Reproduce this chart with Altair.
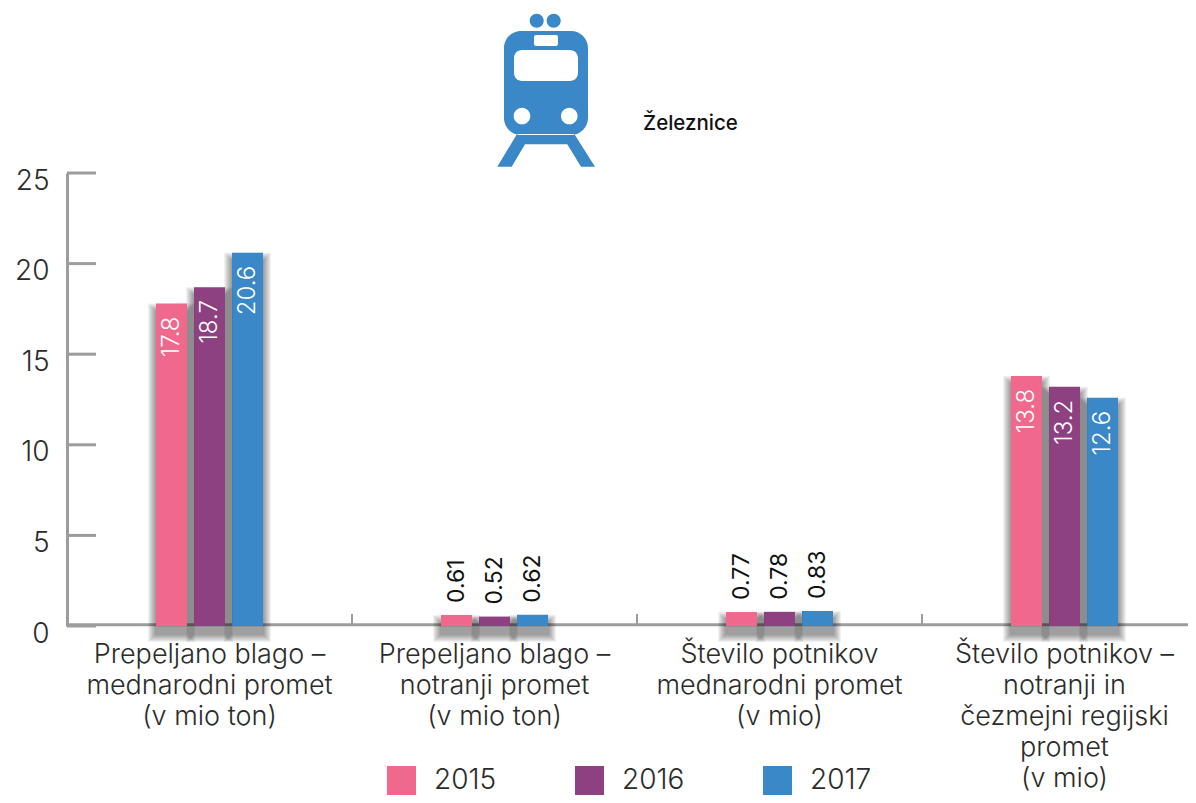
import altair as alt
import pandas as pd

categories = ["Prepeljano blago –|mednarodni promet|(v mio ton)",
              "Prepeljano blago –|notranji promet|(v mio ton)",
              "Število potnikov|mednarodni promet|(v mio)",
              "Število potnikov –|notranji in|čezmejni regijski|promet|(v mio)"]
years = ["2015", "2016", "2017"]
colors = ["#F0688B", "#8E4180", "#3B88C9"]
v2015 = [17.8, 0.61, 0.77, 13.8]
v2016 = [18.7, 0.52, 0.78, 13.2]
v2017 = [20.6, 0.62, 0.83, 12.6]
y_ticks = [0, 5, 10, 15, 20, 25]
FONT = "Inter"
GREY = "#9C9C9C"
DARK = "#2B2B2B"

rows = []
for y, vals in zip(years, [v2015, v2016, v2017]):
    for c, v in zip(categories, vals):
        rows.append({"cat": c, "year": y, "value": v})
df = pd.DataFrame(rows)

xs = alt.X("cat:N", sort=categories, scale=alt.Scale(domain=categories, paddingInner=0, paddingOuter=0),
           axis=alt.Axis(title=None, labelAngle=0, labelFont=FONT, labelFontSize=27, labelFontWeight=300,
                         labelColor=DARK, ticks=False, labelPadding=15.5, labelLimit=0, labelOverlap=False,
                         labelLineHeight=31, labelBaseline="top", labelAlign="center",
                         domain=False, grid=False,
                         labelExpr="split(datum.label, '|')"))
ys = alt.Y("value:Q", scale=alt.Scale(domain=[0, 25], nice=False),
           axis=alt.Axis(title=None, values=y_ticks, ticks=False, tickSize=0, grid=False, labelFont=FONT, labelFontSize=28,
                         labelFontWeight=300, labelColor=DARK, labelPadding=18, labelOffset=8,
                         domainColor=GREY, domainWidth=3))
xo = alt.XOffset("year:N", scale=alt.Scale(domain=years, range=[89, 196], paddingInner=7/38, paddingOuter=0))
col = alt.Color("year:N", scale=alt.Scale(domain=years, range=colors),
                legend=alt.Legend(title=None, orient="none", legendX=320, legendY=593, direction="horizontal", padding=0,
                                  symbolType="square", symbolSize=841, symbolStrokeWidth=0, symbolOpacity=1,
                                  labelFont=FONT, labelFontSize=28, labelFontWeight=300, labelColor=DARK,
                                  labelOffset=18, columnPadding=78, columns=3))

base = alt.Chart(df)
layers = []
# x axis line, x ticks and y ticks
xl = alt.Chart(pd.DataFrame({"a": [1]})).mark_rule(color=GREY, strokeWidth=3).encode(
    y=alt.value(451.7), x=alt.value(0), x2=alt.value(1140))
yt = alt.Chart(pd.DataFrame({"value": y_ticks})).mark_rule(color=GREY, strokeWidth=3).encode(
    y=ys, x=alt.value(0), x2=alt.value(29))
xt = alt.Chart(pd.DataFrame({"cat": categories})).mark_rule(color=GREY, strokeWidth=2).encode(
    x=alt.X("cat:N", sort=categories, bandPosition=0), y=alt.value(441), y2=alt.value(452))
layers += [xl, yt, xt]

for yr in reversed(years):
    sub = base.transform_filter(f"datum.year == '{yr}'")
    for w in (16, 14, 12, 10, 8, 6, 4, 2):
        layers.append(sub.mark_bar(color="black", opacity=0.05, stroke="black", strokeWidth=w,
                                   xOffset=10, yOffset=8).encode(x=xs, xOffset=xo, y=ys))
    layers.append(sub.mark_bar(opacity=1).encode(x=xs, xOffset=xo, y=ys, color=col))

layers.append(base.transform_filter("datum.value > 5").mark_text(angle=270, align="right", baseline="middle", dx=-13,
              font=FONT, fontSize=24, fontWeight=300, color="white").encode(x=xs, xOffset=xo, y=ys, text=alt.Text("value:Q", format=".1f")))
layers.append(base.transform_filter("datum.value <= 5").mark_text(angle=270, align="left", baseline="middle", dx=12,
              font=FONT, fontSize=23, fontWeight=400, color="#111").encode(x=xs, xOffset=xo, y=ys, text=alt.Text("value:Q", format=".2f")))

# icon, path in pixels around its centre
BLUE = "#3B88C9"
def circ(cx, cy, r, sweep=1):
    return f"M{cx-r},{cy}A{r},{r} 0 1 {sweep} {cx+r},{cy}A{r},{r} 0 1 {sweep} {cx-r},{cy}Z"
def rrect(x0, y0, x1, y1, r):
    return (f"M{x0+r},{y0}L{x1-r},{y0}A{r},{r} 0 0 1 {x1},{y0+r}L{x1},{y1-r}A{r},{r} 0 0 1 {x1-r},{y1}"
            f"L{x0+r},{y1}A{r},{r} 0 0 1 {x0},{y1-r}L{x0},{y0+r}A{r},{r} 0 0 1 {x0+r},{y0}Z")
icon_blue = (circ(-9.3, -69.3, 7) + circ(7.7, -69.3, 7) + rrect(-42, -59, 42, 45, 17) +
             "M-29,44L-48.7,76.7L-34.3,76.7L-21,54.3L21.3,54.3L35,76.7L49,76.7L28.3,44Z")
icon_white = (rrect(-12, -55, 12, -44, 2) + rrect(-32, -40, 32, -9, 8) + circ(-24, 26, 8.3) + circ(23.3, 26, 8.3))
one = alt.Chart(pd.DataFrame({"a": [1]}))
for shape, c in ((icon_blue, BLUE), (icon_white, "white")):
    layers.append(one.mark_point(shape=shape, filled=True, size=4, color=c, opacity=1).encode(x=alt.value(479), y=alt.value(-83)))
layers.append(one.mark_text(text="Železnice", font=FONT, fontSize=20.5, fontWeight=500, color="#111", align="left", baseline="middle")
              .encode(x=alt.value(576), y=alt.value(-49)))

chart = alt.layer(*layers).resolve_scale(x="shared", y="shared").properties(
    width=1140, height=453,
    autosize=alt.AutoSizeParams(type="none"),
    padding={"left": 59, "top": 165, "right": -19, "bottom": 169},
).configure_view(stroke=None)
chart.save("out.html", embed_options={"renderer": "svg", "actions": False})
